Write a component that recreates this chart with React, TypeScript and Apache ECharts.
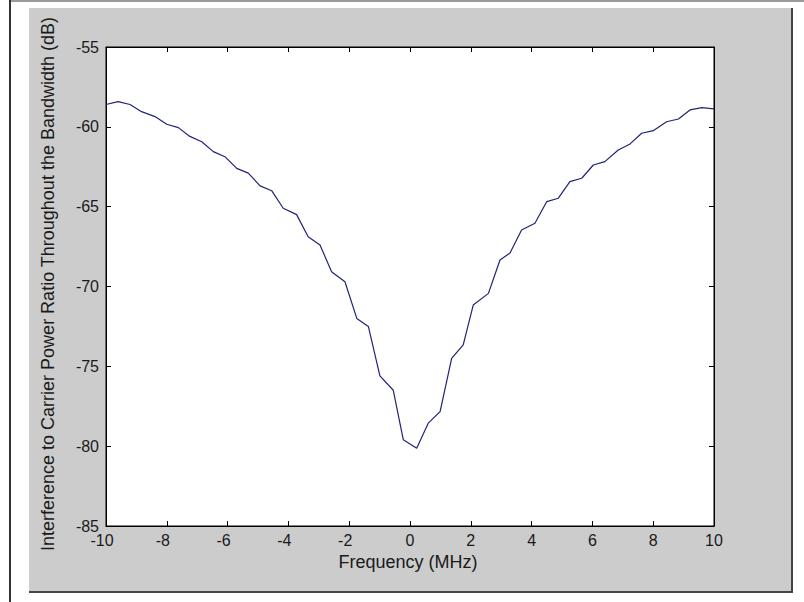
import React, { useEffect, useRef } from "react";
import * as echarts from "echarts";

const freqs: number[] = [
  -10, -9.6, -9.21, -8.83, -8.39, -8.0, -7.62, -7.24, -6.85, -6.47, -6.09, -5.7, -5.32,
  -4.93, -4.55, -4.17, -3.73, -3.35, -2.96, -2.58, -2.14, -1.75, -1.37, -0.99, -0.55,
  -0.22, 0.22, 0.6, 0.99, 1.37, 1.75, 2.08, 2.58, 2.96, 3.29, 3.67, 4.11, 4.5, 4.88,
  5.26, 5.65, 6.03, 6.41, 6.85, 7.24, 7.62, 8.0, 8.44, 8.83, 9.21, 9.6, 10,
];
const icr: number[] = [
  -58.6, -58.42, -58.6, -59.05, -59.36, -59.84, -60.05, -60.6, -60.93, -61.55, -61.87,
  -62.6, -62.9, -63.7, -64.0, -65.1, -65.5, -66.88, -67.4, -69.07, -69.7, -72.0, -72.5,
  -75.6, -76.5, -79.6, -80.13, -78.56, -77.84, -74.5, -73.66, -71.16, -70.43, -68.34,
  -67.9, -66.46, -66.04, -64.68, -64.47, -63.43, -63.22, -62.39, -62.18, -61.45, -61.07,
  -60.4, -60.24, -59.68, -59.51, -58.94, -58.8, -58.88,
];
const xTicks = { min: -10, max: 10, interval: 2 };
const yTicks = { min: -85, max: -55, interval: 5 };
const xTitle = "Frequency (MHz)";
const yTitle = "Interference to Carrier Power Ratio Throughout the Bandwidth (dB)";

const FONT = "'Liberation Sans', Arial, sans-serif";

export default function App() {
  const ref = useRef<HTMLDivElement>(null);
  useEffect(() => {
    const chart = echarts.init(ref.current!, null, { renderer: "svg" });
    const labelBase = { color: "#1a1a1a", fontSize: 16, fontFamily: FONT };
    const tick = { inside: true, length: 5, lineStyle: { color: "#000", width: 1 } };
    const line = { show: true, onZero: false, lineStyle: { color: "#000", width: 1 } };
    chart.setOption({
      animation: false,
      grid: {
        left: 106,
        top: 47,
        width: 608,
        height: 479,
        show: true,
        backgroundColor: "#ffffff",
        borderColor: "#000",
        borderWidth: 1,
      },
      xAxis: [
        {
          type: "value",
          ...xTicks,
          position: "bottom",
          axisLine: line,
          axisTick: tick,
          splitLine: { show: false },
          axisLabel: {
            ...labelBase,
            margin: 6,
            formatter: (v: number) => (v < 0 ? `{n|${v}}` : `${v}`),
            rich: { n: { ...labelBase, padding: [0, 8, 0, 0] } },
          },
        },
        {
          type: "value",
          ...xTicks,
          position: "top",
          axisLine: line,
          axisTick: tick,
          splitLine: { show: false },
          axisLabel: { show: false },
        },
      ],
      yAxis: [
        {
          type: "value",
          ...yTicks,
          position: "left",
          axisLine: line,
          axisTick: tick,
          splitLine: { show: false },
          axisLabel: { ...labelBase, margin: 7 },
        },
        {
          type: "value",
          ...yTicks,
          position: "right",
          axisLine: line,
          axisTick: tick,
          splitLine: { show: false },
          axisLabel: { show: false },
        },
      ],
      graphic: [
        {
          type: "text",
          x: 408,
          y: 562,
          style: {
            text: xTitle,
            fill: "#1a1a1a",
            font: `18px ${FONT}`,
            textAlign: "center",
            textVerticalAlign: "middle",
          },
        },
        {
          type: "text",
          x: 48,
          y: 284,
          rotation: Math.PI / 2,
          style: {
            text: yTitle,
            fill: "#1a1a1a",
            font: `18px ${FONT}`,
            textAlign: "center",
            textVerticalAlign: "middle",
          },
        },
      ],
      series: [
        {
          type: "line",
          data: freqs.map((f, i) => [f, icr[i]]),
          showSymbol: false,
          symbol: "none",
          lineStyle: { color: "#22227a", width: 1.2 },
          xAxisIndex: 0,
          yAxisIndex: 0,
        },
      ],
    });
    return () => chart.dispose();
  }, []);

  return (
    <div style={{ position: "fixed", left: 0, top: 0, width: 804, height: 602, background: "#fff" }}>
      <div style={{ position: "absolute", left: 10, top: 0, width: 794, height: 2, background: "#9a9a9a" }} />
      <div style={{ position: "absolute", left: 9, top: 0, width: 1.5, height: 602, background: "#333" }} />
      <div
        style={{
          position: "absolute",
          left: 29,
          top: 8,
          width: 762,
          height: 583,
          background: "#cccccc",
          borderRight: "2px solid #444",
          borderBottom: "2px solid #444",
        }}
      />
      <div ref={ref} style={{ position: "absolute", left: 0, top: 0, width: 804, height: 602 }} />
    </div>
  );
}
